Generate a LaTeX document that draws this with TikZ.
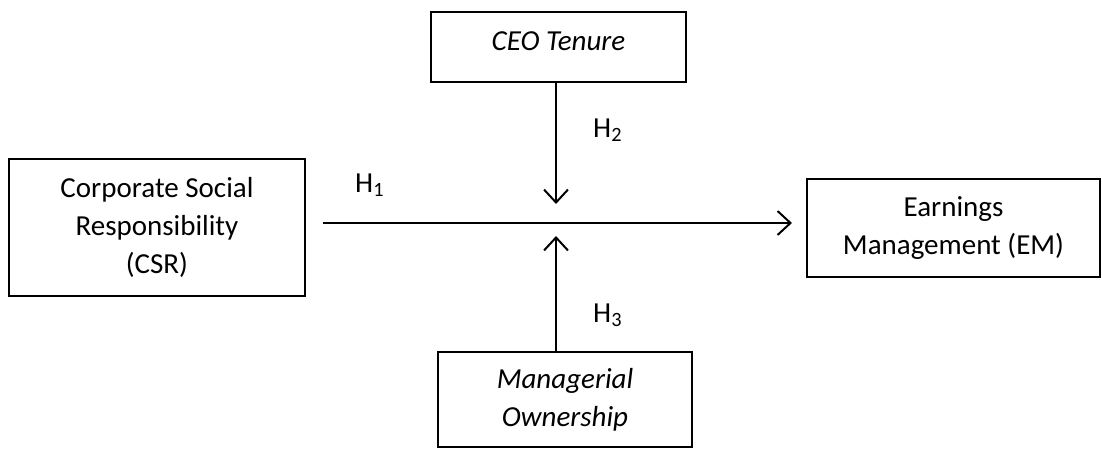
\documentclass[tikz,border=0pt]{standalone}
\usepackage{fontspec}
\setmainfont{Carlito}
\usetikzlibrary{arrows.meta}
\begin{document}
\begin{tikzpicture}[x=1pt,y=-1pt,
  box/.style={draw, line width=2pt, align=center, inner sep=0pt,
    font=\fontsize{29}{38}\selectfont},
  arr/.style={line width=2pt, -{Straight Barb[length=13pt,width=24pt,line width=2pt]}},
  lab/.style={anchor=base west, inner sep=0pt, font=\fontsize{29}{38}\selectfont}]
\useasboundingbox (0,0) rectangle (1102,448);
\node[box, minimum width=296pt, minimum height=137pt] (csr) at (157,227.5)
  {Corporate Social\\Responsibility\\(CSR)};
\node[box, minimum width=255pt, minimum height=70pt, text height=6pt, text depth=0pt,
  font=\fontsize{29}{38}\selectfont\itshape] (ceo) at (558.5,47)
  {CEO Tenure};
\node[box, minimum width=254pt, minimum height=95pt, font=\fontsize{29}{38}\selectfont\itshape] (mo) at (565,399.5)
  {Managerial\\Ownership};
\node[box, minimum width=293pt, minimum height=98pt] (em) at (953.5,228)
  {Earnings\\Management (EM)};
\coordinate (mid) at (556,223);
\draw[arr, shorten <=17pt, shorten >=14pt] (csr.east |- mid) -- (em.west |- mid);
\draw[arr, shorten >=19pt] (mid |- ceo.south) -- (mid);
\draw[arr, shorten >=13pt] (mid |- mo.north) -- (mid);
\node[lab] (h1) at (355,192) {H\textsubscript{1}};
\node[lab] (h2) at (593,137) {H\textsubscript{2}};
\node[lab] (h3) at (593,322) {H\textsubscript{3}};
\end{tikzpicture}
\end{document}
